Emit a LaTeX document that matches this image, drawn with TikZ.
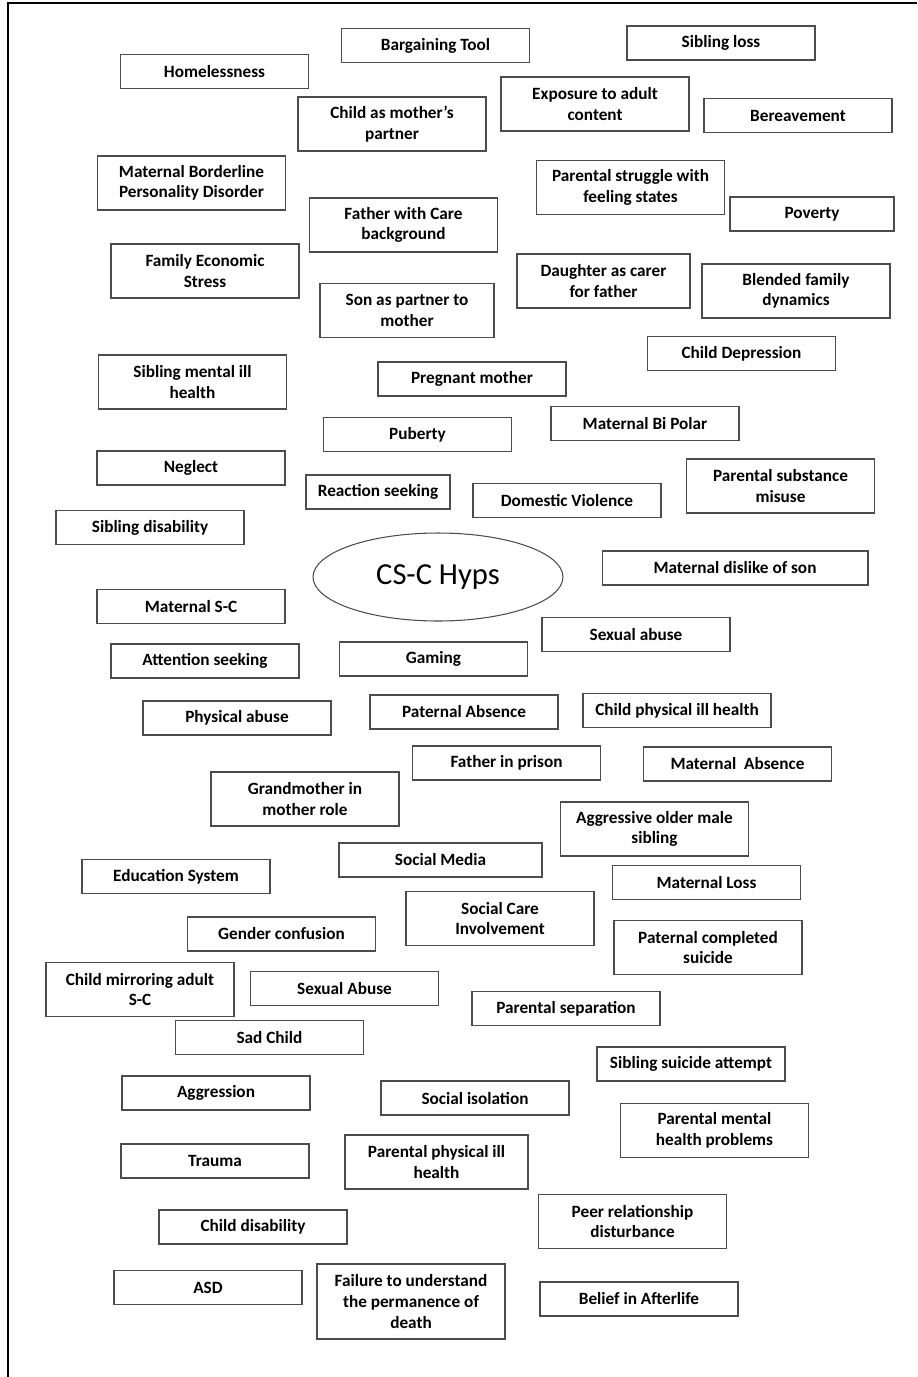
\documentclass[tikz,border=0pt]{standalone}
\usepackage{fontspec}
\setmainfont{Carlito}
\usetikzlibrary{shapes.geometric}

\begin{document}
\begin{tikzpicture}[x=0.02cm, y=-0.02cm,
	hyp/.style={draw=black!70, line width=0.6pt, align=center, inner sep=0pt,
		minimum width=3.76cm, minimum height=0.68cm,
		font=\fontsize{9.8}{11.7}\selectfont\bfseries},
	two/.style={minimum height=1.08cm}]
	\useasboundingbox (0, 0) rectangle (917, 1377);
	
	% frame
	\draw[line width=1.4pt] (8, 1377) -- (8, 3) -- (917, 3);
	
	% centre
	\node[draw=black!70, line width=0.6pt, ellipse, inner sep=0pt, minimum width=5cm, minimum height=1.76cm,
		font=\fontsize{17.4}{20}\selectfont] at (438, 577) (hyps) {CS-C Hyps};
	
	% top
	\node[hyp] at (435.5, 45.5)  (bargain)  {Bargaining Tool};
	\node[hyp] at (721, 43)      (sibloss)  {Sibling loss};
	\node[hyp] at (214.5, 71.5)  (homeless) {Homelessness};
	\node[hyp, two] at (392, 124)     (childpart) {Child as mother’s\\partner};
	\node[hyp, two] at (595, 104)     (exposure)  {Exposure to adult\\content};
	\node[hyp] at (798, 115.5)   (bereave)  {Bereavement};
	\node[hyp, two] at (191.5, 183)   (borderline) {Maternal Borderline\\Personality Disorder};
	\node[hyp, two] at (630.5, 187.5) (struggle)  {Parental struggle with\\feeling states};
	\node[hyp, minimum width=3.28cm] at (812, 214) (poverty) {Poverty};
	\node[hyp, two] at (403.5, 225)   (fathercare) {Father with Care\\background};
	\node[hyp, two] at (205, 271)     (economic)  {Family Economic\\Stress};
	\node[hyp, two, minimum width=3.46cm] at (603.5, 281) (daughter) {Daughter as carer\\for father};
	\node[hyp, two] at (796, 291)     (blended)   {Blended family\\dynamics};
	\node[hyp, two, minimum width=3.48cm] at (407, 310.5) (sonpart) {Son as partner to\\mother};
	\node[hyp] at (741.5, 353.5) (childdep) {Child Depression};
	\node[hyp, two] at (192.5, 382)   (sibmental) {Sibling mental ill\\health};
	\node[hyp] at (472, 379)     (pregnant) {Pregnant mother};
	\node[hyp] at (645, 423.5)   (bipolar)  {Maternal Bi Polar};
	\node[hyp] at (417.5, 434.5) (puberty)  {Puberty};
	\node[hyp] at (191, 468)     (neglect)  {Neglect};
	\node[hyp, minimum width=2.88cm] at (378, 492) (reaction) {Reaction seeking};
	\node[hyp] at (567, 500.5)   (domestic) {Domestic Violence};
	\node[hyp, two] at (780.5, 486)   (substance) {Parental substance\\misuse};
	\node[hyp] at (150, 527.5)   (sibdisab) {Sibling disability};
	
	% middle
	\node[hyp, minimum width=5.32cm] at (735, 568) (dislike) {Maternal dislike of son};
	\node[hyp] at (191, 606.5)   (matsc)    {Maternal S-C};
	\node[hyp] at (636, 634.5)   (sexabuse) {Sexual abuse};
	\node[hyp] at (205, 661)     (attention) {Attention seeking};
	\node[hyp] at (433.5, 659)   (gaming)   {Gaming};
	\node[hyp] at (237, 718)     (physabuse) {Physical abuse};
	\node[hyp] at (464, 712)     (patabsence) {Paternal Absence};
	\node[hyp] at (677, 710.5)   (childphys) {Child physical ill health};
	\node[hyp] at (506.5, 763)   (prison)   {Father in prison};
	\node[hyp] at (737.5, 764)   (matabsence) {Maternal\ \ Absence};
	\node[hyp, two] at (305, 799)     (grandmother) {Grandmother in\\mother role};
	\node[hyp, two] at (654.5, 829)   (aggsibling) {Aggressive older male\\sibling};
	\node[hyp, minimum width=4.06cm] at (440.5, 860) (socmedia) {Social Media};
	\node[hyp] at (176, 876.5)   (education) {Education System};
	\node[hyp] at (706.5, 882.5) (matloss)  {Maternal Loss};
	\node[hyp, two] at (500, 918.5)   (socialcare) {Social Care\\Involvement};
	\node[hyp] at (281.5, 934)   (gender)   {Gender confusion};
	\node[hyp, two] at (708, 947.5)   (patsuicide) {Paternal completed\\suicide};
	\node[hyp, two] at (140, 989.5)   (mirroring) {Child mirroring adult\\S-C};
	\node[hyp] at (344.5, 988.5) (sexabuse2) {Sexual Abuse};
	\node[hyp] at (566, 1008.5)  (separation) {Parental separation};
	\node[hyp] at (269.5, 1037.5) (sadchild) {Sad Child};
	
	% bottom
	\node[hyp] at (691, 1064)    (sibsuicide) {Sibling suicide attempt};
	\node[hyp] at (216, 1093)    (aggression) {Aggression};
	\node[hyp] at (475, 1098)    (isolation) {Social isolation};
	\node[hyp, two] at (714.5, 1130.5) (parmental) {Parental mental\\health problems};
	\node[hyp, two, minimum width=3.66cm] at (436.5, 1162) (parphys) {Parental physical ill\\health};
	\node[hyp] at (215, 1161)    (trauma)   {Trauma};
	\node[hyp] at (253, 1227)    (childdisab) {Child disability};
	\node[hyp, two] at (632.5, 1221.5) (peer) {Peer relationship\\disturbance};
	\node[hyp] at (208, 1287.5)  (asd)      {ASD};
	\node[hyp, minimum height=1.5cm] at (411, 1301.5) (failure) {Failure to understand\\the permanence of\\death};
	\node[hyp, minimum width=3.96cm] at (639, 1299) (afterlife) {Belief in Afterlife};
	
\end{tikzpicture}
\end{document}
